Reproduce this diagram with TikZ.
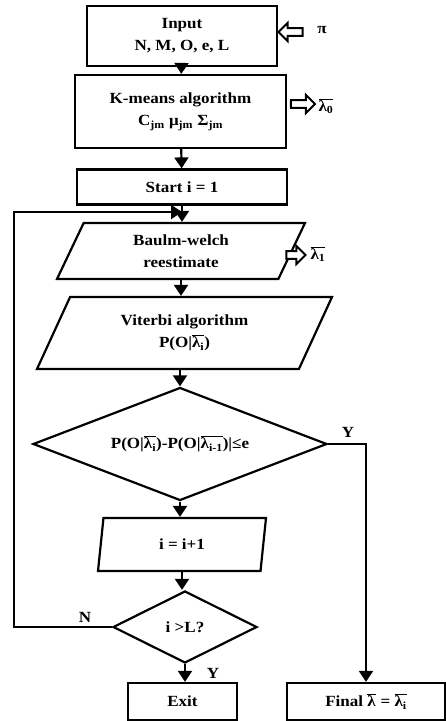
\documentclass[tikz,border=0pt]{standalone}
\usepackage{fontspec}
\setmainfont{Liberation Serif}[FakeStretch=1.1]
\usetikzlibrary{shapes.geometric,shapes.arrows,arrows.meta}
\newcommand{\lamb}[1]{$\overline{\mbox{λ\textsubscript{#1}}}$}
\begin{document}
\begin{tikzpicture}[
    x=1pt, y=-1pt,  % On travaille en pixels, axe y vers le bas
    every node/.style={font=\fontsize{15.5}{22}\selectfont\bfseries, align=center},
    boite/.style={draw, line width=2.2pt, inner sep=0pt},
    para/.style={draw, line width=2.2pt, trapezium, trapezium stretches body,
        inner sep=0pt},
    losange/.style={draw, line width=2.2pt, diamond, inner sep=0pt},
    bloc/.style={single arrow, draw, line width=2pt, fill=white,
        minimum width=18pt, minimum height=24pt, inner sep=2pt,
        single arrow head extend=4pt},
    fleche/.style={line width=2.2pt, -{Triangle[width=14pt,length=11pt]}}
]
\useasboundingbox (0,0) rectangle (445,721);
% Les boites
\node[boite, minimum width=190pt, minimum height=60pt] (input) at (182,36)
    {Input\\N, M, O, e, L};
\node[boite, minimum width=211pt, minimum height=73pt] (kmeans) at (180.5,111.5)
    {K-means algorithm\\C\textsubscript{jm} μ\textsubscript{jm} Σ\textsubscript{jm}};
\node[boite, minimum width=210pt, minimum height=35pt] (start) at (182,187)
    {Start i = 1};
\node[para, trapezium left angle=51, trapezium right angle=129,
    minimum width=248pt, minimum height=56pt] (baulm) at (181,251)
    {Baulm-welch\\reestimate};
\node[para, trapezium left angle=47.5, trapezium right angle=132.5,
    minimum width=295pt, minimum height=72pt] (viterbi) at (184.5,333)
    {Viterbi algorithm\\P(O|\lamb{i})};
\node[losange, shape aspect=2.6, minimum width=294pt, minimum height=113pt]
    (test) at (180,444) {P(O|\lamb{i})-P(O|\lamb{i-1})|≤e};
\node[para, trapezium left angle=63, trapezium right angle=117,
    minimum width=168pt, minimum height=53pt] (incr) at (182,544.5)
    {i = i+1};
\node[losange, shape aspect=2, minimum width=144pt, minimum height=72pt]
    (fin) at (185,627) {i >L?};
\node[boite, minimum width=109pt, minimum height=37pt] (exit) at (182.5,701.5)
    {Exit};
\node[boite, minimum width=158pt, minimum height=37pt] (final) at (366,701.5)
    {Final \lamb{} = \lamb{i}};
% Les entrees laterales
\node[bloc, shape border rotate=180] (fpi) at (292.5,32) {};
\node (pi) at (322,30) {π};
\node[bloc] (flam0) at (301,104) {};
\node (lam0) at (326,106) {\lamb{0}};
\node[bloc, minimum height=19pt] (flam1) at (294,255) {};
\node (lam1) at (318,254) {\lamb{1}};
% Les liaisons
\coordinate (jonction) at (182,212);
\draw[fleche] (input) -- (kmeans);
\draw[fleche] (kmeans) -- (start);
\draw[fleche] (start) -- (start |- baulm.north);
\draw[fleche] (baulm.south) -- (baulm.south |- viterbi.north);
\draw[fleche] (viterbi.south -| test.north) -- (test.north);
\draw[fleche] (test.south) -- (test.south |- incr.north);
\draw[fleche] (incr.south) -- (incr.south |- fin.north);
\draw[fleche] (fin.south) -- (fin.south |- exit.north);
\draw[fleche] (fin.west) -- ++(-98,0) |- (jonction);
\draw[fleche] (test.east) -| (final.north);
\node at (85,617) {N};
\node at (213,673) {Y};
\node at (348,432) {Y};
\end{tikzpicture}
\end{document}
